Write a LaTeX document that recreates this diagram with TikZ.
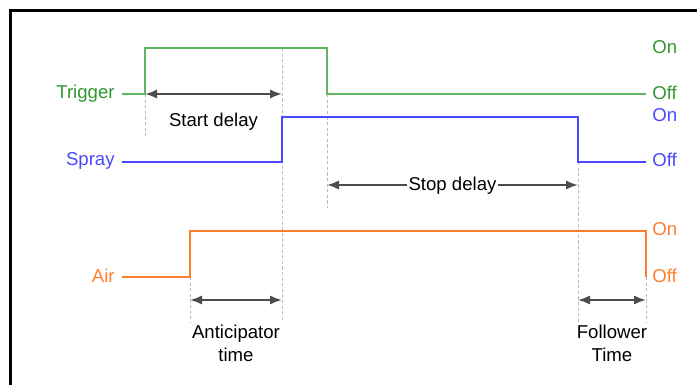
\documentclass[tikz,border=0pt]{standalone}
\usepackage{fontspec}
\setmainfont{Liberation Sans}
\usetikzlibrary{arrows.meta}

\definecolor{trigline}{RGB}{96,182,96}
\definecolor{trigtext}{RGB}{48,152,48}
\definecolor{sprayblue}{RGB}{72,72,255}
\definecolor{airorange}{RGB}{255,126,44}

\tikzset{
  sig/.style={line width=1pt},
  guide/.style={draw=gray!55, line width=0.45pt, dash pattern=on 1.6pt off 1.2pt},
  span/.style={{Latex[length=6pt,width=4.6pt]}-{Latex[length=6pt,width=4.6pt]}, draw=black!70, line width=1pt},
  lbl/.style={font=\fontsize{9.3}{11.5}\selectfont, inner sep=1pt},
}

\begin{document}
\begin{tikzpicture}[x=0.5pt,y=-0.5pt]
      \useasboundingbox (0,0) rectangle (697,385);

      % Frame
      \draw[line width=1.5pt] (10,420) -- (10,11) -- (720,11);

      % Labels
      \node[lbl,trigtext,anchor=east] (trigger) at (117,94) {Trigger};
      \node[lbl,sprayblue,anchor=east] (spray) at (117,161) {Spray};
      \node[lbl,airorange,anchor=east] (air) at (117,276) {Air};
      \node[lbl,trigtext,anchor=west] (trigon) at (650,47) {On};
      \node[lbl,trigtext,anchor=west] (trigoff) at (650,93) {Off};
      \node[lbl,sprayblue,anchor=west] (sprayon) at (650,115) {On};
      \node[lbl,sprayblue,anchor=west] (sprayoff) at (650,160) {Off};
      \node[lbl,airorange,anchor=west] (airon) at (650,229) {On};
      \node[lbl,airorange,anchor=west] (airoff) at (650,276) {Off};

      % Guides
      \draw[guide] (145,94) -- (145,138);
      \draw[guide] (282,48) -- (282,322);
      \draw[guide] (327,94) -- (327,208);
      \draw[guide] (578,162) -- (578,322);
      \draw[guide] (190,277) -- (190,322);
      \draw[guide] (646,277) -- (646,322);

      % Signals
      \draw[sig,trigline] (122,94) -- (145,94) -- (145,48) -- (327,48) -- (327,94) -- (646,94);
      \draw[sig,sprayblue] (122,162) -- (282,162) -- (282,117) -- (578,117) -- (578,162) -- (646,162);
      \draw[sig,airorange] (122,277) -- (190,277) -- (190,231) -- (646,231) -- (646,277);

      % Delays
      \draw[span] (145,94) -- node[lbl,black,below=8pt] (startdelay) {Start delay} (282,94);
      \draw[span] (327,185) -- node[lbl,black,fill=white,yshift=-0.5pt] (stopdelay) {Stop delay} (578,185);
      \draw[span] (190,300) -- node[lbl,black,below=11pt,align=center] (anticipator) {Anticipator\\time} (282,300);
      \draw[span] (578,300) -- node[lbl,black,below=11pt,align=center] (follower) {Follower\\Time} (646,300);

\end{tikzpicture}
\end{document}
